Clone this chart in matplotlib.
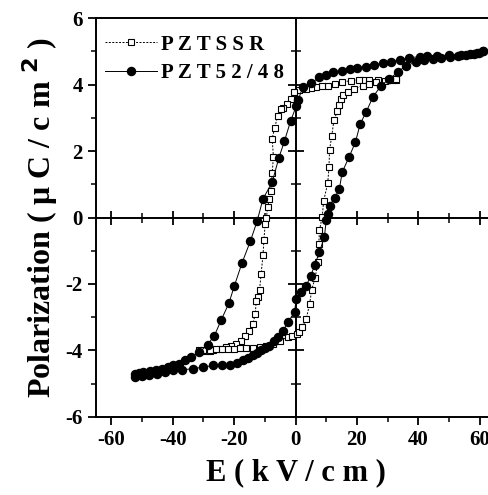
import matplotlib
matplotlib.use("Agg")
import matplotlib.pyplot as plt
import numpy as np

plt.rcParams["axes.unicode_minus"] = False

# PZTSSR loop (upper branch descending, then lower branch ascending)
ssr_E = [32.8, 30.0, 27.0, 24.0, 22.0, 20.8, 18.0, 15.3, 13.0, 10.5, 8.5, 6.7, 5.0, 3.5, 2.0, 1.0,
         -0.5, -1.4, -2.8, -4.0, -4.7, -5.8, -6.8, -7.6, -7.2, -7.6, -8.1, -8.6, -9.0, -9.5, -9.9,
         -10.3, -10.6, -11.2, -11.7, -12.3, -12.8, -13.1, -13.9, -15.0, -16.3, -17.7, -19.3,
         -21.0, -22.6, -24.5, -26.9, -28.0, -29.5, -31.3,
         -30.0, -28.0, -26.0, -24.0, -22.0, -20.0, -18.0, -16.0, -14.0, -11.7, -9.5, -7.4, -5.2,
         -2.5, -1.0, 0.5, 1.3, 2.2, 3.5, 4.6, 5.3, 6.4, 7.3, 7.6, 7.8, 8.7, 9.2, 10.5, 10.9,
         11.1, 11.8, 12.5, 13.6, 14.1, 14.9, 15.6, 17.0, 19.2, 21.9, 24.0, 26.3, 29.0, 31.0, 32.8]
ssr_P = [4.15, 4.15, 4.15, 4.15, 4.15, 4.15, 4.12, 4.07, 4.02, 3.97, 3.95, 3.92, 3.90, 3.87, 3.86, 3.85,
         3.77, 3.57, 3.40, 3.30, 3.27, 3.05, 2.70, 2.37, 1.83, 1.33, 0.81, 0.55, 0.33, 0.0, -0.21,
         -0.69, -1.14, -1.69, -2.17, -2.40, -2.50, -2.90, -3.20, -3.40, -3.55, -3.70, -3.80,
         -3.86, -3.90, -3.95, -4.00, -4.02, -4.02, -4.00,
         -3.98, -3.98, -3.97, -3.97, -3.96, -3.95, -3.94, -3.92, -3.91, -3.90, -3.86, -3.80, -3.70,
         -3.60, -3.55, -3.50, -3.45, -3.30, -3.05, -2.60, -2.17, -1.81, -1.34, -0.80, -0.39, 0.03,
         0.51, 1.03, 1.51, 2.04, 2.44, 2.92, 3.19, 3.37, 3.57, 3.67, 3.77, 3.87, 3.97, 4.02, 4.07,
         4.12, 4.15, 4.17]

# PZT52/48 loop
pzt_E = [61.0, 59.0, 57.0, 54.0, 50.0, 46.0, 43.0, 40.4, 37.0, 33.9, 31.0, 28.4, 25.5, 23.0, 20.0,
         17.6, 15.0, 12.2, 10.0, 7.8, 5.1, 2.4, 0.8, 0.2, -1.6, -3.6, -5.4, -7.6, -10.6, -12.5,
         -14.7, -17.4, -19.9, -21.7, -24.2, -26.4, -28.6, -31.3, -34.0, -36.0, -37.8, -40.0, -41.6,
         -43.5, -45.4, -47.5, -49.7, -51.0, -52.4,
         -52.4, -50.0, -47.6, -45.0, -42.5, -40.0, -37.0, -33.5, -30.0, -26.9, -24.0, -21.5,
         -19.0, -17.2, -15.5, -13.9, -12.5, -11.2, -9.8, -8.5, -7.0, -5.8, -4.0, -2.5, -0.3, 0.2,
         1.8, 3.5, 5.0, 6.2, 7.8, 9.4, 10.0, 10.5, 11.1, 12.8, 14.3, 15.2, 17.4, 19.5, 21.1,
         23.0, 25.2, 27.9, 30.6, 33.3, 36.0, 39.3, 42.0, 44.7, 47.5, 50.2, 53.0, 55.6, 58.0,
         59.9, 61.0]
pzt_P = [5.00, 4.96, 4.93, 4.90, 4.88, 4.86, 4.86, 4.84, 4.80, 4.74, 4.69, 4.64, 4.59, 4.54, 4.50,
         4.47, 4.42, 4.37, 4.30, 4.22, 4.04, 3.92, 3.52, 3.34, 2.90, 2.30, 1.80, 1.06, 0.56, -0.11,
         -0.71, -1.36, -2.05, -2.58, -3.08, -3.55, -3.82, -4.05, -4.20, -4.30, -4.40, -4.45, -4.50,
         -4.55, -4.60, -4.62, -4.65, -4.68, -4.70,
         -4.80, -4.77, -4.75, -4.70, -4.65, -4.60, -4.58, -4.55, -4.50, -4.45, -4.45, -4.45,
         -4.38, -4.28, -4.22, -4.15, -4.08, -4.00, -3.93, -3.85, -3.72, -3.60, -3.40, -3.15, -2.85, -2.45,
         -2.25, -2.05, -1.75, -1.44, -1.04, -0.59, -0.09, 0.10, 0.36, 0.60, 0.86, 1.36, 1.81, 2.26, 2.82,
         3.17, 3.62, 3.97, 4.17, 4.37, 4.57, 4.67, 4.73, 4.77, 4.80, 4.82, 4.86, 4.90, 4.92,
         4.94, 5.00]

x_major = [-60, -40, -20, 0, 20, 40, 60]
x_minor = [-50, -30, -10, 10, 30, 50]
y_major = [-6, -4, -2, 0, 2, 4, 6]
y_minor = [-5, -3, -1, 1, 3, 5]

FONT = "Liberation Serif"

fig = plt.figure(figsize=(4.89, 4.95), dpi=100)
ax = fig.add_axes([0.1963, 0.1576, 0.816, 0.806])

ax.plot(ssr_E, ssr_P, linestyle=(0, (2, 1.5)), color="black", lw=0.7,
        marker="s", markersize=4.8, markerfacecolor="white", markeredgecolor="black",
        markeredgewidth=0.8, label="P Z T S S R", zorder=3)
ax.plot(pzt_E, pzt_P, linestyle="-", color="black", lw=0.7,
        marker="o", markersize=5.8, markerfacecolor="black", markeredgecolor="black",
        label="P Z T 5 2 / 4 8", zorder=4)

ax.set_xlim(-65, 65)
ax.set_ylim(-6, 6)
ax.set_xticks(x_major)
ax.set_xticks(x_minor, minor=True)
ax.set_yticks(y_major)
ax.set_yticks(y_minor, minor=True)
ax.tick_params(which="major", direction="out", length=6, width=1.3, labelsize=15)
ax.tick_params(which="minor", direction="out", length=3.5, width=1.1)
ax.tick_params(top=False, right=False, which="both")
for lab in ax.get_xticklabels() + ax.get_yticklabels():
    lab.set_fontfamily(FONT)
    lab.set_fontweight("bold")

for s in ["left", "bottom", "top", "right"]:
    ax.spines[s].set_linewidth(1.4)

# zero lines with crossing ticks
ax.axhline(0, color="black", lw=1.4, zorder=2)
ax.axvline(0, color="black", lw=1.4, zorder=2)
xm = [v for v in x_major if v != 0]
ax.plot(xm, [0] * len(xm), linestyle="none", marker="|", markersize=10, markeredgewidth=1.3,
        color="black", zorder=2)
ax.plot(x_minor, [0] * len(x_minor), linestyle="none", marker="|", markersize=6.5,
        markeredgewidth=1.1, color="black", zorder=2)
ym = [v for v in y_major if v not in (0, -6, 6)]
ax.plot([0] * len(ym), ym, linestyle="none", marker="_", markersize=12, markeredgewidth=1.3,
        color="black", zorder=2)
ax.plot([0] * len(y_minor), y_minor, linestyle="none", marker="_", markersize=7.5,
        markeredgewidth=1.1, color="black", zorder=2)

ax.set_xlabel("E ( k V / c m )", fontfamily=FONT, fontweight="bold", fontsize=22, labelpad=6)
ax.set_ylabel("Polarization ( μ C / c m $^{\\mathbf{2}}$ )", fontfamily=FONT, fontweight="bold",
              fontsize=23, labelpad=4)

leg = ax.legend(loc="upper left", bbox_to_anchor=(-0.015, 0.995), frameon=False,
                prop={"family": FONT, "weight": "bold", "size": 15},
                handlelength=2.5, handletextpad=0.2, labelspacing=0.4, borderaxespad=0.3)

fig.savefig("out.png", dpi=100)
